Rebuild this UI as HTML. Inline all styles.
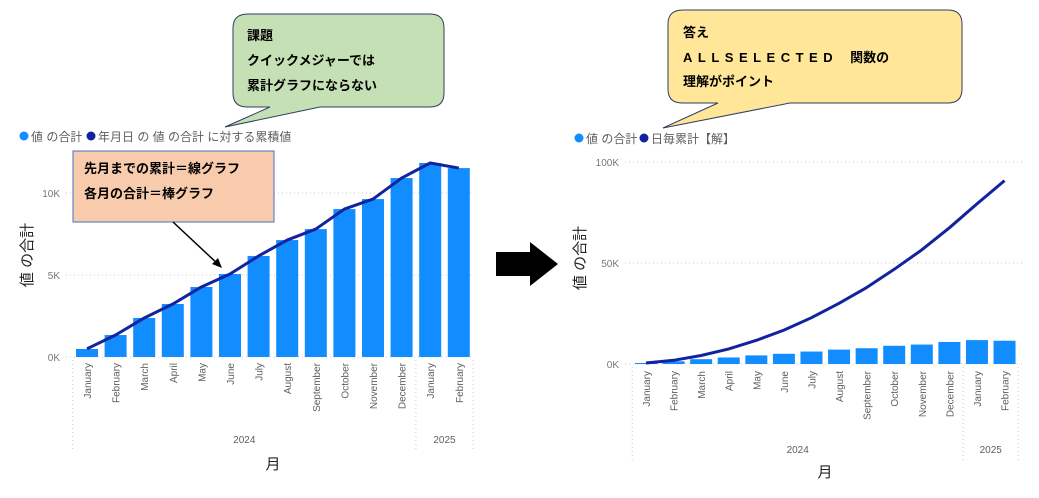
<!DOCTYPE html>
<html><head><meta charset="utf-8">
<style>
html,body{margin:0;padding:0;background:#fff;}
svg{display:block;font-family:"Liberation Sans","Noto Sans CJK JP",sans-serif;}
</style></head>
<body>
<svg id="s" width="1039" height="498" viewBox="0 0 1039 498">
  <g>
    <path d="M248,14 H430 Q444,14 444,28 V93 Q444,107 430,107 H320 L225,127 L270,107 H247 Q233,107 233,93 V28 Q233,14 248,14 Z" fill="#c5e0b4" stroke="#2f3f5f" stroke-width="1"/>
    <text x="247" y="40" font-size="13" font-weight="bold" fill="#000">課題</text>
    <text x="247" y="65" font-size="13" font-weight="bold" fill="#000">クイックメジャーでは</text>
    <text x="247" y="90" font-size="13" font-weight="bold" fill="#000">累計グラフにならない</text>
  </g>
  <g>
    <path d="M683,10 H948 Q962,10 962,24 V89 Q962,103 948,103 H790 L663,128 L718,103 H682 Q668,103 668,89 V24 Q668,10 683,10 Z" fill="#ffe699" stroke="#2f3f5f" stroke-width="1"/>
    <text x="683" y="37" font-size="13" font-weight="bold" fill="#000">答え</text>
    <text x="683" y="62" font-size="13" font-weight="bold" fill="#000"><tspan letter-spacing="5.5">ALLSELECTED</tspan><tspan dx="12">関数の</tspan></text>
    <text x="683" y="86" font-size="13" font-weight="bold" fill="#000">理解がポイント</text>
  </g>
  <path d="M496,252 H530 V242 L558,264 L530,286 V276 H496 Z" fill="#000"/>

  <g>
    <circle cx="24" cy="136" r="4.5" fill="#118dff"/>
    <text x="31" y="141" font-size="12" fill="#605e5c">値 の合計</text>
    <circle cx="91" cy="136" r="4.5" fill="#12239e"/>
    <text x="98" y="141" font-size="12" fill="#605e5c">年月日 の 値 の合計 に対する累積値</text>
  </g>
  <g>
    <circle cx="579" cy="138" r="4.5" fill="#118dff"/>
    <text x="586" y="143" font-size="12" fill="#605e5c">値 の合計</text>
    <circle cx="644" cy="138" r="4.5" fill="#12239e"/>
    <text x="651" y="143" font-size="12" fill="#605e5c">日毎累計【解】</text>
  </g>

  <g id="left"></g>
  <g id="right"></g>

  <g>
    <rect x="73" y="151" width="201" height="71" fill="#f8cbad" stroke="#4472c4" stroke-width="1"/>
    <text x="84" y="173" font-size="13" font-weight="bold" fill="#000">先月までの累計＝線グラフ</text>
    <text x="84" y="198" font-size="13" font-weight="bold" fill="#000">各月の合計＝棒グラフ</text>
    <line x1="173" y1="222" x2="220" y2="266" stroke="#000" stroke-width="1.5"/>
    <path d="M222,268 L212,264 L218,258 Z" fill="#000"/>
  </g>
</svg>
<script>
const months = ["January","February","March","April","May","June","July","August","September","October","November","December","January","February"];
const years = ["2024","2025"];
const monthlyValues = [490,1340,2380,3230,4270,5060,6160,7130,7800,9020,9630,10910,11830,11520];
const quickMeasureLine = [500,1340,2380,3230,4270,5060,6160,7130,7800,9020,9630,10910,11830,11520];
const runningTotal = [490,1830,4210,7440,11710,16770,22930,30060,37860,46880,56510,67420,79250,90770];
const leftTicks = [0,5000,10000];
const leftTickLabels = ["0K","5K","10K"];
const rightTicks = [0,50000,100000];
const rightTickLabels = ["0K","50K","100K"];

const NS="http://www.w3.org/2000/svg";
function mk(parent,tag,attrs,txt){const e=document.createElementNS(NS,tag);for(const k in attrs)e.setAttribute(k,attrs[k]);if(txt!==undefined)e.textContent=txt;parent.appendChild(e);return e;}

function drawChart(g,cfg){
  const n=months.length;
  const xc=i=>cfg.x0+i*cfg.step;
  const y=v=>cfg.y0-v*cfg.pxPer;
  cfg.ticks.forEach((t,i)=>{
    const gl=mk(g,"line",{x1:cfg.gridX0,x2:cfg.gridX1,y1:y(t),y2:y(t),stroke:"#c8c8c8","stroke-dasharray":"1,3"});
    
    
    const tl=mk(g,"text",{x:cfg.gridX0-6,y:y(t)+4,"font-size":"10","text-anchor":"end",fill:"#777"},cfg.tickLabels[i]);
    
    
  });
  monthlyValues.forEach((v,i)=>{
    const b=mk(g,"rect",{x:xc(i)-cfg.bw/2,y:y(v),width:cfg.bw,height:cfg.y0-y(v),fill:"#118dff"});
    
    
  });
  const pts=cfg.line.map((v,i)=>xc(i)+","+y(v)).join(" ");
  const pl=mk(g,"polyline",{points:pts,fill:"none",stroke:"#12239e","stroke-width":"3","stroke-linejoin":"round"});
  
  
  months.forEach((m,i)=>{
    const t=mk(g,"text",{x:0,y:0,"font-size":"10",fill:"#605e5c","text-anchor":"end",transform:`translate(${xc(i)+4},${cfg.labelY}) rotate(-90)`},m);
    
    
  });
  const sepXs=[xc(0)-cfg.step/2,xc(12)-cfg.step/2,xc(n-1)+cfg.step/2];
  sepXs.forEach(sx=>{
    const s=mk(g,"line",{x1:sx,x2:sx,y1:cfg.y0+3,y2:cfg.sepBottom,stroke:"#c8c8c8","stroke-dasharray":"1,3"});
    
    
  });
  const ya=mk(g,"text",{x:(sepXs[0]+sepXs[1])/2,y:cfg.yearY,"font-size":"10","text-anchor":"middle",fill:"#605e5c"},years[0]);
  
  
  const yb=mk(g,"text",{x:(sepXs[1]+sepXs[2])/2,y:cfg.yearY,"font-size":"10","text-anchor":"middle",fill:"#605e5c"},years[1]);
  
  
  const xt=mk(g,"text",{x:cfg.xTitleX,y:cfg.xTitleY,"font-size":"15","text-anchor":"middle",fill:"#252423"},"月");
  
  
  const yt=mk(g,"text",{x:0,y:0,"font-size":"15","text-anchor":"middle",fill:"#252423",transform:`translate(${cfg.yTitleX},${cfg.yTitleY}) rotate(-90)`},"値 の合計");
  
  
}

drawChart(document.getElementById("left"),{
  x0:87,step:28.6,bw:22,y0:357,pxPer:82/5000,gridX0:66,gridX1:473,
  ticks:leftTicks,tickLabels:leftTickLabels,line:quickMeasureLine,
  labelY:363,sepBottom:450,yearY:443,xTitleX:273,xTitleY:469,yTitleX:32,yTitleY:255
});
drawChart(document.getElementById("right"),{
  x0:646,step:27.58,bw:22,y0:364,pxPer:101/50000,gridX0:625,gridX1:1025,
  ticks:rightTicks,tickLabels:rightTickLabels,line:runningTotal,
  labelY:371,sepBottom:460,yearY:453,xTitleX:825,xTitleY:477,yTitleX:585,yTitleY:258
});
</script>
</body></html>
